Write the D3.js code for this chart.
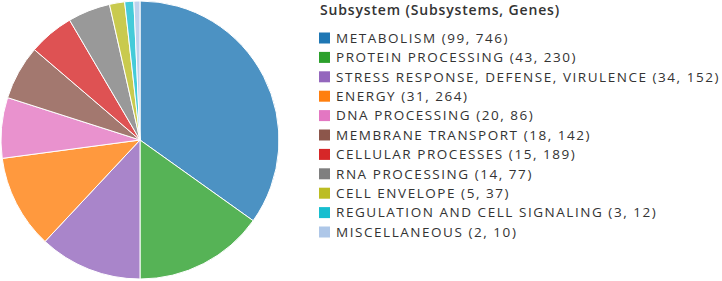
<!DOCTYPE html>
<html>
<head>
<meta charset="utf-8">
<script src="https://cdn.jsdelivr.net/npm/d3@7"></script>
<style>
  body { margin: 0; background: #fff; }
  text { font-family: "Open Sans", sans-serif; fill: #333; }
</style>
</head>
<body>
<div id="chart"></div>
<script>
const subsystems = [
  'METABOLISM', 'PROTEIN PROCESSING', 'STRESS RESPONSE, DEFENSE, VIRULENCE', 'ENERGY',
  'DNA PROCESSING', 'MEMBRANE TRANSPORT', 'CELLULAR PROCESSES', 'RNA PROCESSING',
  'CELL ENVELOPE', 'REGULATION AND CELL SIGNALING', 'MISCELLANEOUS'
];
const subsystemCounts = [99, 43, 34, 31, 20, 18, 15, 14, 5, 3, 2];
const geneCounts = [746, 230, 152, 264, 86, 142, 189, 77, 37, 12, 10];
const colors = ['#1f77b4', '#2ca02c', '#9467bd', '#ff7f0e', '#e377c2', '#8c564b',
  '#d62728', '#7f7f7f', '#bcbd22', '#17becf', '#aec7e8'];

function ready(fn) {
  if (document.readyState != 'loading') {
    fn();
  } else {
    document.addEventListener('DOMContentLoaded', fn);
  }
}
ready(main);

// stretch a text to a given width with letter-spacing
function fitSpacing(sel, target) {
  sel.attr('letter-spacing', 0);
  let n = sel.text().length;
  let w = sel.node().getComputedTextLength();
  let ls = (target - w) / n;
  sel.attr('letter-spacing', ls);
  return ls;
}

function main() {
  let width = 722, height = 281;
  let radius = 139;
  let data = subsystems.map((name, i) => ({name: name, subs: subsystemCounts[i], genes: geneCounts[i]}));

  let color = d3.scaleOrdinal().domain(subsystems).range(colors);

  const svg = d3.select('#chart').append('svg')
    .attr('width', width)
    .attr('height', height);

  let pie = d3.pie().sort(null).value(d => d.subs);
  let arc = d3.arc().innerRadius(0).outerRadius(radius);

  svg.append('g')
    .attr('transform', 'translate(140,140)')
    .selectAll('path')
    .data(pie(data))
    .join('path')
    .attr('d', arc)
    .attr('fill', d => color(d.data.name))
    .attr('fill-opacity', 0.8)
    .attr('stroke', '#fff')
    .attr('stroke-width', 1);

  let legend = svg.append('g').attr('transform', 'translate(319,0)');

  let title = legend.append('text')
    .attr('x', 1)
    .attr('y', 10)
    .attr('dy', '0.35em')
    .attr('font-size', 14)
    .attr('font-weight', 600)
    .text('Subsystem (Subsystems, Genes)');
  fitSpacing(title, 240);

  let y = d3.scalePoint().domain(subsystems).range([38, 232]);

  let rows = legend.selectAll('g.row')
    .data(data)
    .join('g')
    .attr('class', 'row')
    .attr('transform', d => `translate(0,${y(d.name)})`);

  rows.append('rect')
    .attr('x', 0)
    .attr('y', -5.5)
    .attr('width', 11)
    .attr('height', 11)
    .attr('fill', d => color(d.name));

  let labels = rows.append('text')
    .attr('x', 17)
    .attr('dy', '0.35em')
    .attr('font-size', 13.5)
    .text(d => `${d.name} (${d.subs}, ${d.genes})`);

  // widest row ends at the right edge in the reference
  let ls = fitSpacing(labels.filter((d, i) => i === 2), 384);
  labels.attr('letter-spacing', ls);
}
</script>
</body>
</html>
